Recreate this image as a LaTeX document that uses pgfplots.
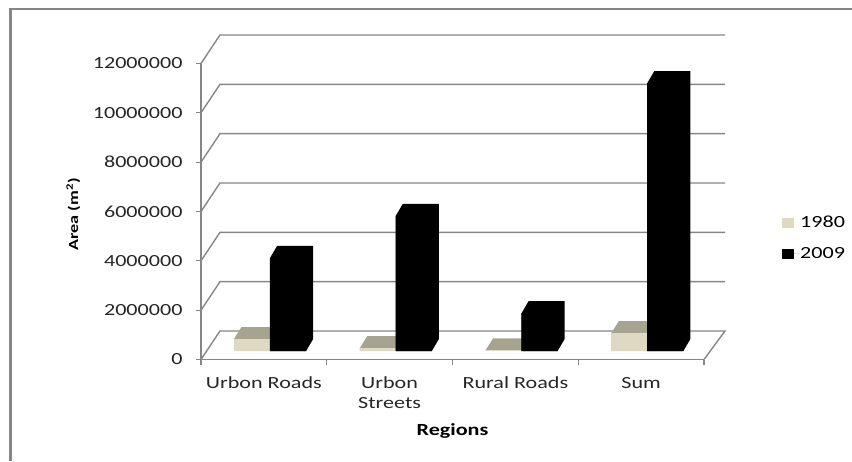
\documentclass[border=0pt]{standalone}
\usepackage{pgfplots}
\pgfplotsset{compat=1.18}
\usepackage{fontspec}
\setmainfont{Carlito}[FakeStretch=1.3]
\definecolor{gridc}{HTML}{868686}
\definecolor{tanf}{HTML}{DDD9C3}
\definecolor{tant}{HTML}{A6A48F}
\definecolor{lab}{HTML}{262626}
\begin{document}
\begin{tikzpicture}[x=1pt,y=1pt]
\useasboundingbox (0,0) rectangle (852,461);
\draw[color=gridc,line width=2.5pt] (10.5,0) -- (10.5,452) -- (852,452);
\begin{axis}[
  at={(201pt,101.5pt)},anchor=south west,
  scale only axis,width=503pt,height=296pt,
  xmin=0,xmax=4,ymin=0,ymax=12000000,
  clip=false,
  axis x line*=bottom,axis y line*=left,
  axis line style={color=gridc,line width=1.5pt,-},
  xtick={0,1,2,3,4},
  xticklabels={Urbon Roads,Urbon\\Streets,Rural Roads,Sum},
  x tick label as interval,
  ytick={0,2000000,4000000,6000000,8000000,10000000,12000000},
  scaled y ticks=false,
  tick align=outside,
  major tick length=5pt,
  tick style={color=gridc,line width=1.2pt},
  /pgf/number format/assume math mode=true,
  y tick label style={/pgf/number format/fixed,/pgf/number format/1000 sep={},font=\fontsize{17}{17}\selectfont,color=lab,xshift=-10pt},
  x tick label style={font=\fontsize{17}{20}\selectfont,color=lab,align=center,yshift=-9pt},
  xlabel={\textbf{Regions}},
  ylabel={\textbf{Area (m\textsuperscript{2})}},
  xlabel style={at={(axis description cs:0.5,-0.2416)},anchor=center,font=\fontsize{17}{17}\selectfont,color=black},
  ylabel style={at={(axis description cs:-0.254,0.49)},anchor=center,font=\fontsize{14}{14}\selectfont,color=black},
  legend style={draw=none,fill=none,at={(axis cs:4.62,5810000)},anchor=north west,font=\fontsize{17}{17}\selectfont,row sep=18pt,inner sep=0pt,nodes={inner sep=0pt,xshift=3pt},legend cell align=left},
  legend image code/.code={\fill[#1] (0pt,-5pt) rectangle (12pt,5pt);\path (0pt,0pt) -- (18pt,0pt);},
]
% back wall: gridlines
\addplot[gridc,line width=1.4pt,forget plot] coordinates {(0,0)(0.151,1156000)(4.167,1156000)(4,0)};
\addplot[gridc,line width=1.4pt,forget plot] coordinates {(0,2000000)(0.151,3156000)(4.167,3156000)};
\addplot[gridc,line width=1.4pt,forget plot] coordinates {(0,4000000)(0.151,5156000)(4.167,5156000)};
\addplot[gridc,line width=1.4pt,forget plot] coordinates {(0,6000000)(0.151,7156000)(4.167,7156000)};
\addplot[gridc,line width=1.4pt,forget plot] coordinates {(0,8000000)(0.151,9156000)(4.167,9156000)};
\addplot[gridc,line width=1.4pt,forget plot] coordinates {(0,10000000)(0.151,11156000)(4.167,11156000)};
\addplot[gridc,line width=1.4pt,forget plot] coordinates {(0,12000000)(0.151,13156000)(4.167,13156000)};
% 1980 tops
\addplot[fill=tant,draw=none,yshift=8.3pt,forget plot] coordinates {(0.262,490000)(0.549,490000)(0.609,977000)(0.322,977000)} -- cycle;
\addplot[fill=tant,draw=none,yshift=8.3pt,forget plot] coordinates {(1.262,120000)(1.549,120000)(1.609,607000)(1.322,607000)} -- cycle;
\addplot[fill=tant,draw=none,yshift=8.3pt,forget plot] coordinates {(2.262,30000)(2.549,30000)(2.609,517000)(2.322,517000)} -- cycle;
\addplot[fill=tant,draw=none,yshift=8.3pt,forget plot] coordinates {(3.262,730000)(3.549,730000)(3.609,1217000)(3.322,1217000)} -- cycle;
% 1980 fronts
\addplot[ybar,bar width=0.287,bar shift=0pt,fill=tanf,draw=none,yshift=8.3pt,forget plot] coordinates {(0.405,490000)(1.405,120000)(2.405,30000)(3.405,730000)};
% 2009 silhouettes (top and side)
\addplot[fill=black,draw=none,yshift=8.3pt,forget plot] coordinates {(0.549,0)(0.835,0)(0.891,487000)(0.891,4267000)(0.605,4267000)(0.549,3780000)} -- cycle;
\addplot[fill=black,draw=none,yshift=8.3pt,forget plot] coordinates {(1.549,0)(1.835,0)(1.891,487000)(1.891,5977000)(1.605,5977000)(1.549,5490000)} -- cycle;
\addplot[fill=black,draw=none,yshift=8.3pt,forget plot] coordinates {(2.549,0)(2.835,0)(2.891,487000)(2.891,2027000)(2.605,2027000)(2.549,1540000)} -- cycle;
\addplot[fill=black,draw=none,yshift=8.3pt,forget plot] coordinates {(3.549,0)(3.835,0)(3.891,487000)(3.891,11357000)(3.605,11357000)(3.549,10870000)} -- cycle;
% 2009 fronts
\addplot[ybar,bar width=0.287,bar shift=0pt,fill=black,draw=none,yshift=8.3pt,forget plot] coordinates {(0.692,3780000)(1.692,5490000)(2.692,1540000)(3.692,10870000)};
\addlegendimage{fill=tanf,draw=none}
\addlegendentry{1980}
\addlegendimage{fill=black,draw=none}
\addlegendentry{2009}
\end{axis}
\end{tikzpicture}
\end{document}
